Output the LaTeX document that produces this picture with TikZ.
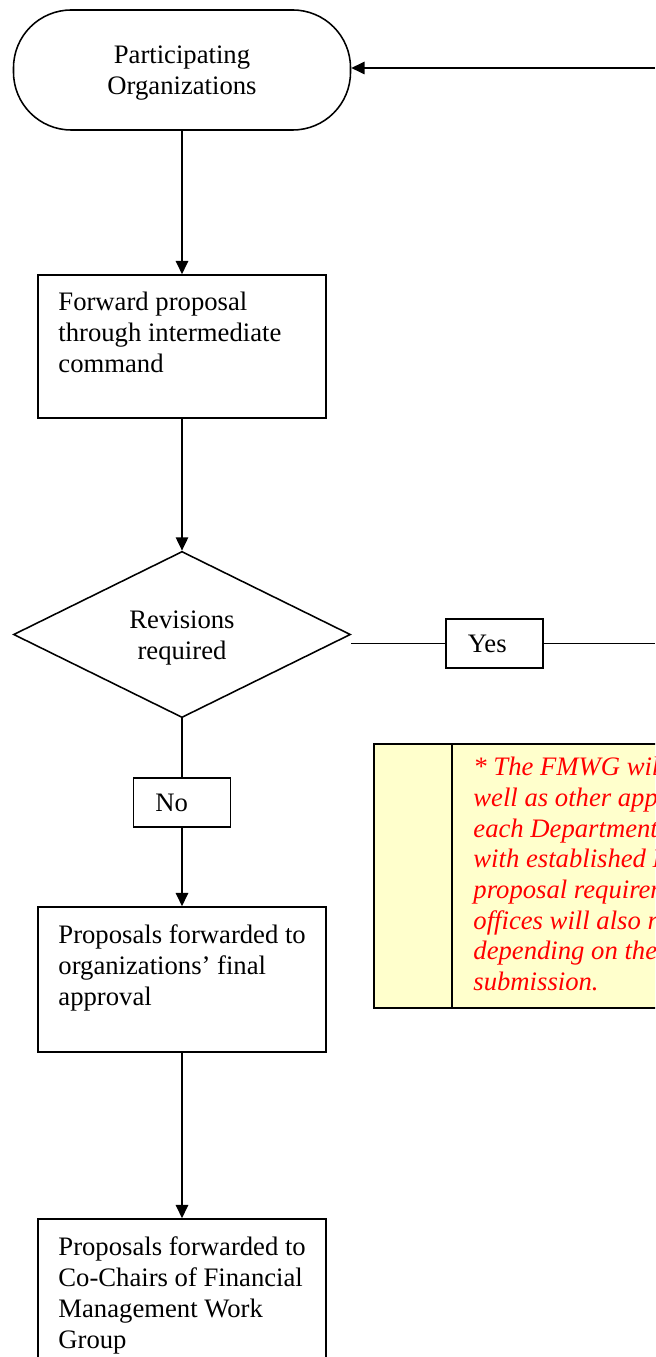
\documentclass[tikz,border=0pt]{standalone}
\usepackage{fontspec}
\setmainfont{Liberation Serif}
\usetikzlibrary{arrows.meta,shapes.geometric}
\begin{document}
\begin{tikzpicture}[x=0.45pt,y=-0.45pt,
  conn/.style={line width=0.7pt},
  arr/.style={conn, -{Triangle[length=6pt,width=5.6pt]}},
  txt/.style={font=\fontsize{12}{13.9}\selectfont},
  boxnode/.style={draw, line width=0.7pt, rectangle, minimum width=129.6pt, inner sep=0pt},
  lbl/.style={txt, align=left, anchor=north west, inner sep=0pt},
  termnode/.style={draw, line width=0.7pt, rectangle, rounded corners=26pt, minimum width=151.65pt, minimum height=54pt, txt, align=center, inner sep=0pt},
  decnode/.style={draw, line width=0.7pt, diamond, minimum width=151.65pt, minimum height=74.25pt, txt, align=center, inner sep=0pt},
  tagnode/.style={draw, line width=0.7pt, rectangle, text width=24pt, align=left, inner xsep=9.9pt, inner ysep=0pt, minimum height=22.05pt, txt},
  notebox/.style={draw, line width=0.9pt, fill=notefill, rectangle, inner sep=0pt, anchor=north west},
  notetxt/.style={font=\fontsize{12}{13.8}\selectfont\itshape, text=red, align=left, anchor=north west, inner sep=0pt}
]
\definecolor{notefill}{HTML}{FFFFCC}
\useasboundingbox (0,0) rectangle (655,1357);
\begin{scope}
\clip (0,0) rectangle (655,1357);
% nodes
\node[termnode] (start) at (182,70) {\rule{0pt}{11pt}Participating\\Organizations};
\node[boxnode, minimum height=64.35pt] (fwd) at (182,346.5) {};
\node[lbl] (fwdt) at (58,291.5) {Forward proposal\\through intermediate\\command};
\node[decnode] (rev) at (182,634.5) {\rule{0pt}{11pt}Revisions\\required};
\node[tagnode] (yes) at (494.5,643.5) {Yes};
\node[tagnode] (no) at (182,802.5) {No};
\node[boxnode, minimum height=65.25pt] (fin) at (182,979.5) {};
\node[lbl] (fint) at (58,924) {Proposals forwarded to\\organizations’ final\\approval};
\node[boxnode, minimum height=70.2pt] (cochair) at (182,1297) {};
\node[lbl] (cochairt) at (58,1236.5) {Proposals forwarded to\\Co-Chairs of Financial\\Management Work\\Group};
\node[notebox, minimum width=156pt, minimum height=118.8pt] (note) at (373,743) {};
\draw[line width=0.9pt] (452,743) -- (452,1007);
\node[notetxt] (notet) at (473,757) {* The FMWG wil\\well as other app\\each Department\\with established F\\proposal requirem\\offices will also r\\depending on the\\submission.};
% connectors
\coordinate (topR) at (655,68);
\coordinate (yesR) at (655,643.5);
\draw[arr] (topR) -- (topR -| start.east);
\draw[arr] (start.south) -- (fwd.north);
\draw[arr] (fwd.south) -- (rev.north);
\draw[conn] (rev.south) -- (no.north);
\draw[arr] (no.south) -- (fin.north);
\draw[arr] (fin.south) -- (cochair.north);
\draw[conn] (rev.east |- yes.west) -- (yes.west);
\draw[conn] (yes.east) -- (yesR);
\end{scope}
\end{tikzpicture}
\end{document}
